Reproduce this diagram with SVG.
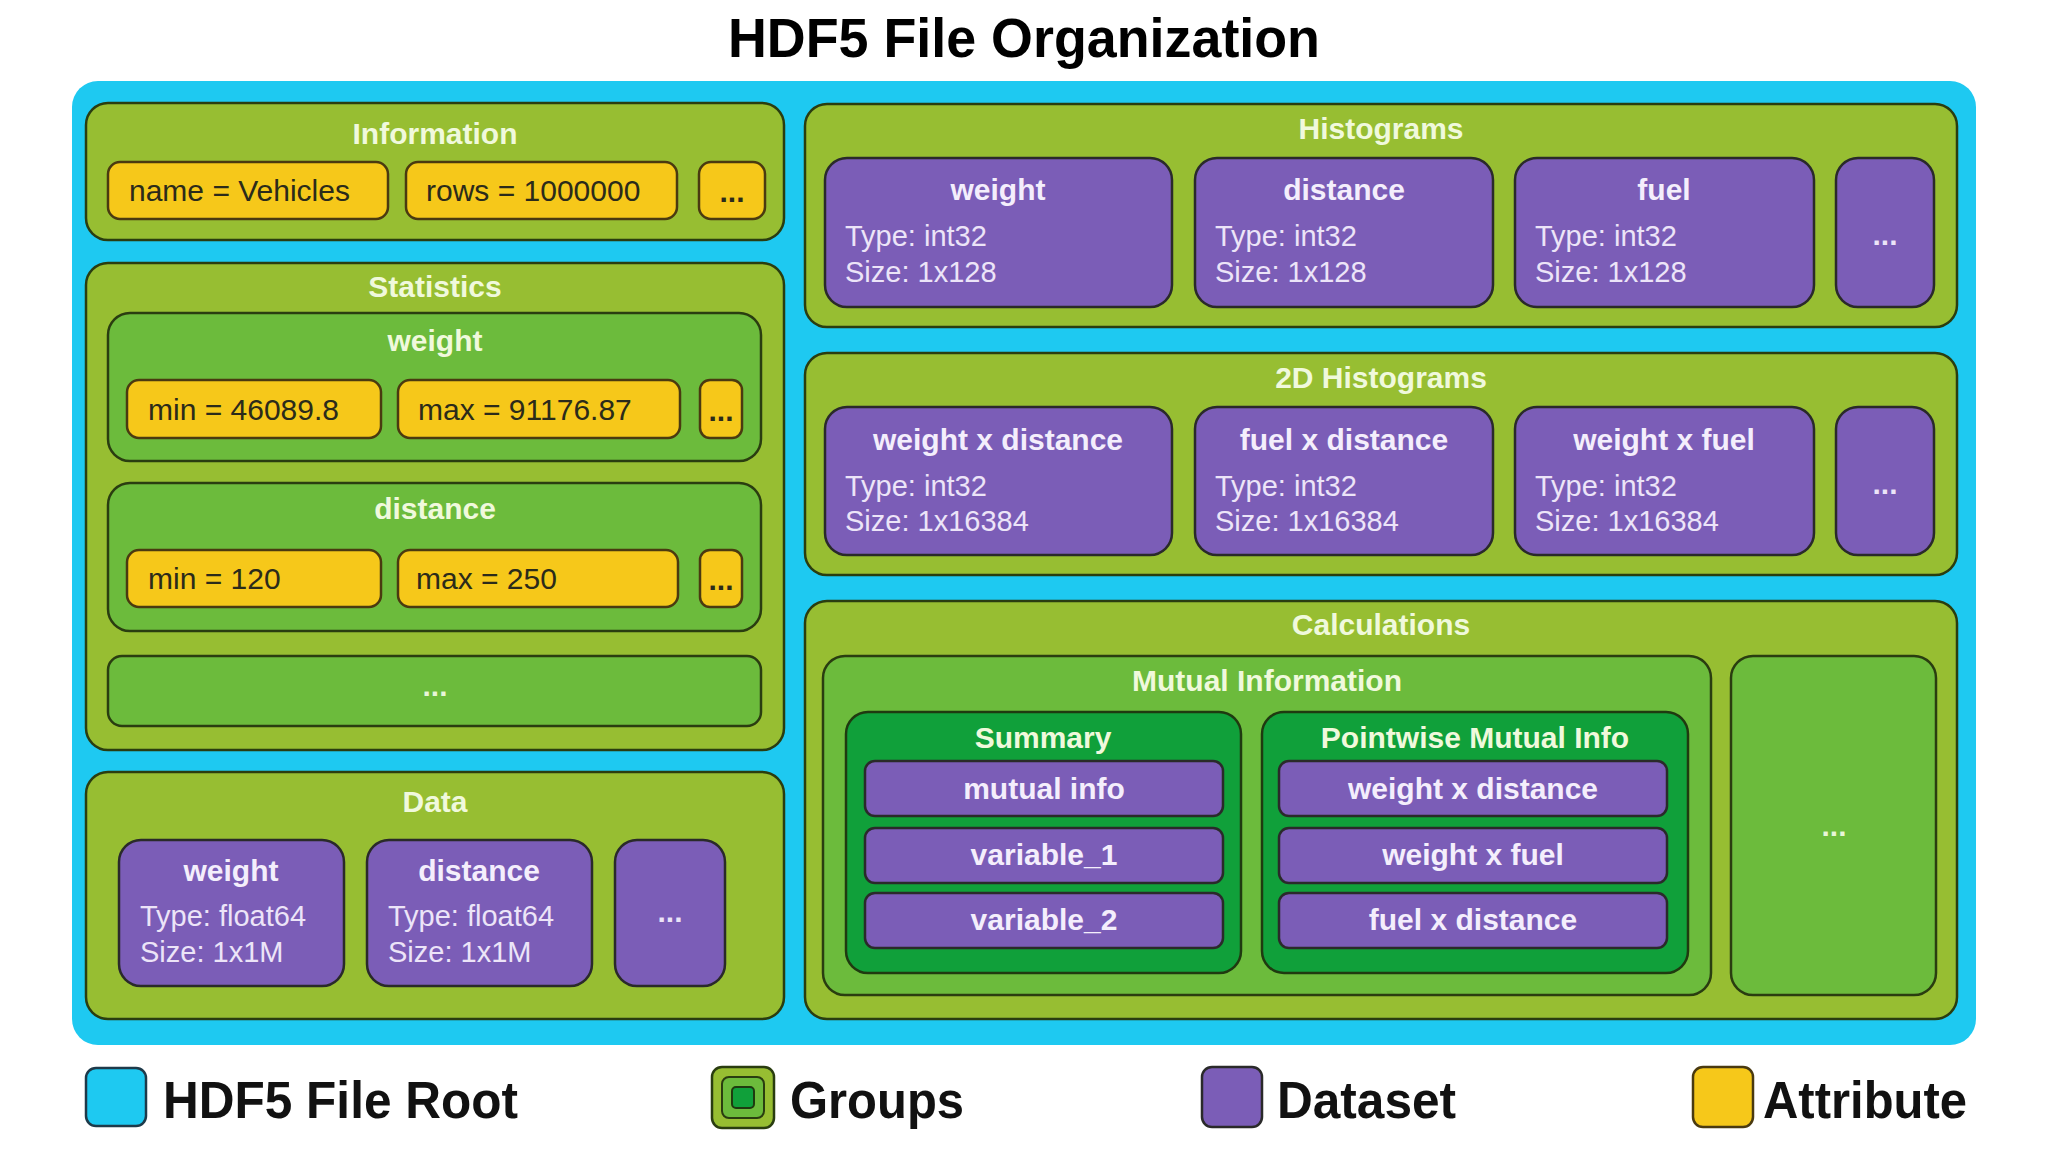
<svg xmlns="http://www.w3.org/2000/svg" width="2048" height="1152" viewBox="0 0 2048 1152">
<style>
text{font-family:"Liberation Sans",Arial,sans-serif}
.root{fill:#1ec9f1}
.g1{fill:#97be32;stroke:#2a3d10;stroke-width:2.5}
.g2{fill:#6cbb3c;stroke:#2a3d10;stroke-width:2.5}
.g3{fill:#10a03a;stroke:#1f3a10;stroke-width:2.5}
.ds{fill:#7b5db7;stroke:#2a2a2a;stroke-width:2.5}
.at{fill:#f6c81a;stroke:#4a3a10;stroke-width:2.5}
.gt{font-size:30px;font-weight:bold;fill:#f0f9dc;text-anchor:middle}
.at-t{font-size:30px;fill:#2b2b1a}
.dn{font-size:30px;font-weight:bold;fill:#f4eefc;text-anchor:middle}
.di{font-size:29px;fill:#ece4f8}
.dots{font-size:30px;font-weight:bold;text-anchor:middle}
.lg{font-size:52px;font-weight:bold;fill:#111}
</style>
<rect width="2048" height="1152" fill="#ffffff"/>
<text x="1024" y="57" font-size="55" font-weight="bold" text-anchor="middle" fill="#000" textLength="592" lengthAdjust="spacingAndGlyphs">HDF5 File Organization</text>

<g id="root">
<rect class="root" x="72" y="81" width="1904" height="964" rx="26"/>
</g>

<g id="information">
<rect class="g1" x="86" y="103" width="698" height="137" rx="22"/>
<text class="gt" x="435" y="144">Information</text>
<g id="attr-name"><rect class="at" x="108" y="162" width="280" height="57" rx="12"/><text class="at-t" x="129" y="201">name = Vehicles</text></g>
<g id="attr-rows"><rect class="at" x="406" y="162" width="271" height="57" rx="12"/><text class="at-t" x="426" y="201">rows = 1000000</text></g>
<g id="attr-info-more"><rect class="at" x="699" y="162" width="66" height="57" rx="12"/><text class="dots" x="732" y="202" fill="#2b2b1a">...</text></g>
</g>

<g id="statistics">
<rect class="g1" x="86" y="263" width="698" height="487" rx="22"/>
<text class="gt" x="435" y="297">Statistics</text>
<g id="stat-weight">
<rect class="g2" x="108" y="313" width="653" height="148" rx="22"/>
<text class="gt" x="435" y="351">weight</text>
<g id="attr-w-min"><rect class="at" x="127" y="380" width="254" height="58" rx="12"/><text class="at-t" x="148" y="420">min = 46089.8</text></g>
<g id="attr-w-max"><rect class="at" x="398" y="380" width="282" height="58" rx="12"/><text class="at-t" x="418" y="420">max = 91176.87</text></g>
<g id="attr-w-more"><rect class="at" x="700" y="380" width="42" height="58" rx="10"/><text class="dots" x="721" y="421" fill="#2b2b1a">...</text></g>
</g>
<g id="stat-distance">
<rect class="g2" x="108" y="483" width="653" height="148" rx="22"/>
<text class="gt" x="435" y="519">distance</text>
<g id="attr-d-min"><rect class="at" x="127" y="550" width="254" height="57" rx="12"/><text class="at-t" x="148" y="589">min = 120</text></g>
<g id="attr-d-max"><rect class="at" x="398" y="550" width="280" height="57" rx="12"/><text class="at-t" x="416" y="589">max = 250</text></g>
<g id="attr-d-more"><rect class="at" x="700" y="550" width="42" height="57" rx="10"/><text class="dots" x="721" y="590" fill="#2b2b1a">...</text></g>
</g>
<g id="stat-more">
<rect class="g2" x="108" y="656" width="653" height="70" rx="14"/>
<text class="dots" x="435" y="696" fill="#e8f6d8">...</text>
</g>
</g>

<g id="data">
<rect class="g1" x="86" y="772" width="698" height="247" rx="22"/>
<text class="gt" x="435" y="812" fill="#eefacc">Data</text>
<g id="data-weight"><rect class="ds" x="119" y="840" width="225" height="146" rx="22"/>
<text class="dn" x="231" y="881">weight</text><text class="di" x="140" y="926">Type: float64</text><text class="di" x="140" y="962">Size: 1x1M</text></g>
<g id="data-distance"><rect class="ds" x="367" y="840" width="225" height="146" rx="22"/>
<text class="dn" x="479" y="881">distance</text><text class="di" x="388" y="926">Type: float64</text><text class="di" x="388" y="962">Size: 1x1M</text></g>
<g id="data-more"><rect class="ds" x="615" y="840" width="110" height="146" rx="22"/>
<text class="dots" x="670" y="922" fill="#ece4f8">...</text></g>
</g>

<g id="histograms">
<rect class="g1" x="805" y="104" width="1152" height="223" rx="22"/>
<text class="gt" x="1381" y="139">Histograms</text>
<g id="h-weight"><rect class="ds" x="825" y="158" width="347" height="149" rx="22"/>
<text class="dn" x="998" y="200">weight</text><text class="di" x="845" y="246">Type: int32</text><text class="di" x="845" y="282">Size: 1x128</text></g>
<g id="h-distance"><rect class="ds" x="1195" y="158" width="298" height="149" rx="22"/>
<text class="dn" x="1344" y="200">distance</text><text class="di" x="1215" y="246">Type: int32</text><text class="di" x="1215" y="282">Size: 1x128</text></g>
<g id="h-fuel"><rect class="ds" x="1515" y="158" width="299" height="149" rx="22"/>
<text class="dn" x="1664" y="200">fuel</text><text class="di" x="1535" y="246">Type: int32</text><text class="di" x="1535" y="282">Size: 1x128</text></g>
<g id="h-more"><rect class="ds" x="1836" y="158" width="98" height="149" rx="22"/>
<text class="dots" x="1885" y="245" fill="#ece4f8">...</text></g>
</g>

<g id="histograms-2d">
<rect class="g1" x="805" y="353" width="1152" height="222" rx="22"/>
<text class="gt" x="1381" y="388">2D Histograms</text>
<g id="h2-wd"><rect class="ds" x="825" y="407" width="347" height="148" rx="22"/>
<text class="dn" x="998" y="450">weight x distance</text><text class="di" x="845" y="496">Type: int32</text><text class="di" x="845" y="531">Size: 1x16384</text></g>
<g id="h2-fd"><rect class="ds" x="1195" y="407" width="298" height="148" rx="22"/>
<text class="dn" x="1344" y="450">fuel x distance</text><text class="di" x="1215" y="496">Type: int32</text><text class="di" x="1215" y="531">Size: 1x16384</text></g>
<g id="h2-wf"><rect class="ds" x="1515" y="407" width="299" height="148" rx="22"/>
<text class="dn" x="1664" y="450">weight x fuel</text><text class="di" x="1535" y="496">Type: int32</text><text class="di" x="1535" y="531">Size: 1x16384</text></g>
<g id="h2-more"><rect class="ds" x="1836" y="407" width="98" height="148" rx="22"/>
<text class="dots" x="1885" y="494" fill="#ece4f8">...</text></g>
</g>

<g id="calculations">
<rect class="g1" x="805" y="601" width="1152" height="418" rx="22"/>
<text class="gt" x="1381" y="635">Calculations</text>
<g id="mutual-information">
<rect class="g2" x="823" y="656" width="888" height="339" rx="22"/>
<text class="gt" x="1267" y="691">Mutual Information</text>
<g id="summary">
<rect class="g3" x="846" y="712" width="395" height="261" rx="22"/>
<text class="gt" x="1043" y="748">Summary</text>
<g id="s-mi"><rect class="ds" x="865" y="761" width="358" height="55" rx="10"/><text class="dn" x="1044" y="799">mutual info</text></g>
<g id="s-v1"><rect class="ds" x="865" y="828" width="358" height="55" rx="10"/><text class="dn" x="1044" y="865">variable_1</text></g>
<g id="s-v2"><rect class="ds" x="865" y="893" width="358" height="55" rx="10"/><text class="dn" x="1044" y="930">variable_2</text></g>
</g>
<g id="pointwise">
<rect class="g3" x="1262" y="712" width="426" height="261" rx="22"/>
<text class="gt" x="1475" y="748">Pointwise Mutual Info</text>
<g id="p-wd"><rect class="ds" x="1279" y="761" width="388" height="55" rx="10"/><text class="dn" x="1473" y="799">weight x distance</text></g>
<g id="p-wf"><rect class="ds" x="1279" y="828" width="388" height="55" rx="10"/><text class="dn" x="1473" y="865">weight x fuel</text></g>
<g id="p-fd"><rect class="ds" x="1279" y="893" width="388" height="55" rx="10"/><text class="dn" x="1473" y="930">fuel x distance</text></g>
</g>
</g>
<g id="calc-more">
<rect class="g2" x="1731" y="656" width="205" height="339" rx="22"/>
<text class="dots" x="1834" y="836" fill="#e8f6d8">...</text>
</g>
</g>

<g id="connectors"></g>

<g id="legend">
<g id="legend-root"><rect x="86" y="1068" width="60" height="58" rx="10" fill="#1ec9f1" stroke="#1e3a4a" stroke-width="2.5"/>
<text class="lg" x="163" y="1118" textLength="355" lengthAdjust="spacingAndGlyphs">HDF5 File Root</text></g>
<g id="legend-groups"><rect x="712" y="1067" width="62" height="61" rx="10" fill="#97be32" stroke="#2a3d10" stroke-width="2.5"/>
<rect x="722" y="1077" width="42" height="41" rx="7" fill="#6cbb3c" stroke="#2a3d10" stroke-width="2"/>
<rect x="732" y="1087" width="22" height="21" rx="4" fill="#10a03a" stroke="#1f3a10" stroke-width="2"/>
<text class="lg" x="790" y="1118" textLength="174" lengthAdjust="spacingAndGlyphs">Groups</text></g>
<g id="legend-dataset"><rect x="1202" y="1067" width="60" height="60" rx="10" fill="#7b5db7" stroke="#2a2a2a" stroke-width="2.5"/>
<text class="lg" x="1277" y="1118" textLength="179" lengthAdjust="spacingAndGlyphs">Dataset</text></g>
<g id="legend-attribute"><rect x="1693" y="1067" width="60" height="60" rx="10" fill="#f6c81a" stroke="#4a3a10" stroke-width="2.5"/>
<text class="lg" x="1763" y="1118" textLength="204" lengthAdjust="spacingAndGlyphs">Attribute</text></g>
</g>
</svg>
